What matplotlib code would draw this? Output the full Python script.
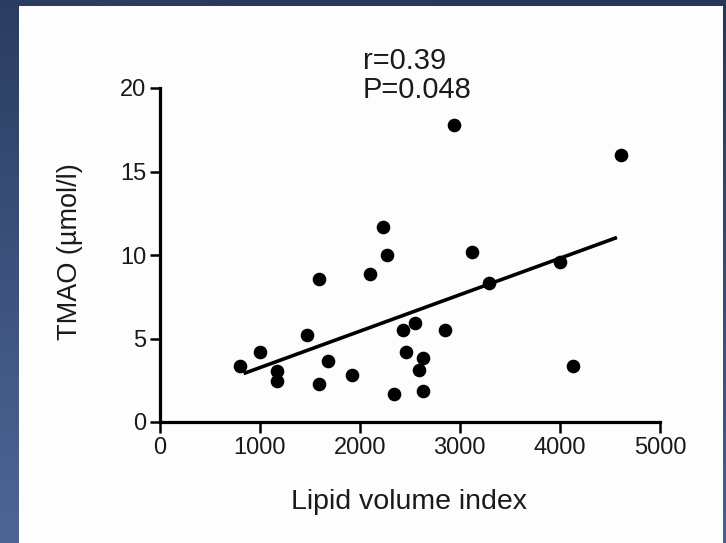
import numpy as np
import matplotlib
matplotlib.use("Agg")
import matplotlib.pyplot as plt
from matplotlib.patches import Rectangle

plt.rcParams["font.family"] = ["Liberation Sans", "DejaVu Sans"]

# data
lipid_index = [805, 1005, 1172, 1172, 1472, 1595, 1595, 1688, 1922, 2105,
               2228, 2272, 2338, 2428, 2462, 2555, 2588, 2628, 2628, 2855,
               2938, 3122, 3288, 4005, 4132, 4612]
tmao = [3.37, 4.17, 3.03, 2.47, 5.18, 8.55, 2.27, 3.67, 2.83, 8.85,
        11.7, 10.0, 1.67, 5.48, 4.17, 5.92, 3.11, 3.81, 1.87, 5.52,
        17.8, 10.16, 8.33, 9.6, 3.33, 15.96]
fit_x = [840, 4570]
fit_y = [2.9, 11.05]
x_ticks = [0, 1000, 2000, 3000, 4000, 5000]
y_ticks = [0, 5, 10, 15, 20]
stats = ["r=0.39", "P=0.048"]

W, H = 726, 543
TXT = "#1a1a1a"
fig = plt.figure(figsize=(W / 100, H / 100), dpi=100)

# slide background: blue gradient, darker at the top
bg = fig.add_axes([0, 0, 1, 1], zorder=-10)
bg.axis("off")
top = np.array([0x25, 0x36, 0x58]) / 255
bot = np.array([0x4c, 0x64, 0x94]) / 255
gy = np.linspace(0, 1, 200)[:, None]
gx = np.linspace(0, 1, 200)[None, :]
t = np.clip(gy * 0.9 + (1 - gx) * 0.15, 0, 1)
img = top[None, None, :] * (1 - t[..., None]) + bot[None, None, :] * t[..., None]
bg.imshow(img, aspect="auto", extent=[0, 1, 0, 1], origin="upper")
bg.set_xlim(0, 1)
bg.set_ylim(0, 1)

# white panel
fig.patches.append(Rectangle((19 / W, 0), (723 - 19) / W, (543 - 6) / H,
                             transform=fig.transFigure, facecolor="#fdfdfd",
                             edgecolor="none", zorder=-5))

ax = fig.add_axes([159.5 / W, (H - 422) / H, (660 - 159.5) / W, (422 - 88) / H])
ax.patch.set_visible(False)

ax.plot(fit_x, fit_y, color="black", lw=2.6, solid_capstyle="butt", zorder=2)
ax.plot(lipid_index, tmao, "o", color="black", ms=8.8, clip_on=False, zorder=3)

ax.set_xlim(0, 5000)
ax.set_ylim(0, 20)
ax.set_xticks(x_ticks)
ax.set_yticks(y_ticks)
for s in ["top", "right"]:
    ax.spines[s].set_visible(False)
for s in ["left", "bottom"]:
    ax.spines[s].set_linewidth(2.3)
ax.tick_params(axis="y", length=7.5, width=1.8, labelsize=17, colors="black",
               labelcolor=TXT, pad=2)
ax.tick_params(axis="x", length=8, width=1.8, labelsize=17, colors="black",
               labelcolor=TXT, pad=2.5)

# axis titles placed by pixel position
fig.text(409.5 / W, (H - 509) / H, "Lipid volume index", fontsize=20.5,
         color=TXT, ha="center", va="baseline")
fig.text(70 / W, (H - 252) / H, "TMAO (µmol/l)", fontsize=19.5, color=TXT,
         rotation=90, ha="center", va="center")

ax.text(2031, 21.14, stats[0], fontsize=21, color=TXT, va="baseline", ha="left",
        clip_on=False)
ax.text(2031, 19.4, stats[1], fontsize=21, color=TXT, va="baseline", ha="left",
        clip_on=False)

fig.savefig("out.png", dpi=100)
